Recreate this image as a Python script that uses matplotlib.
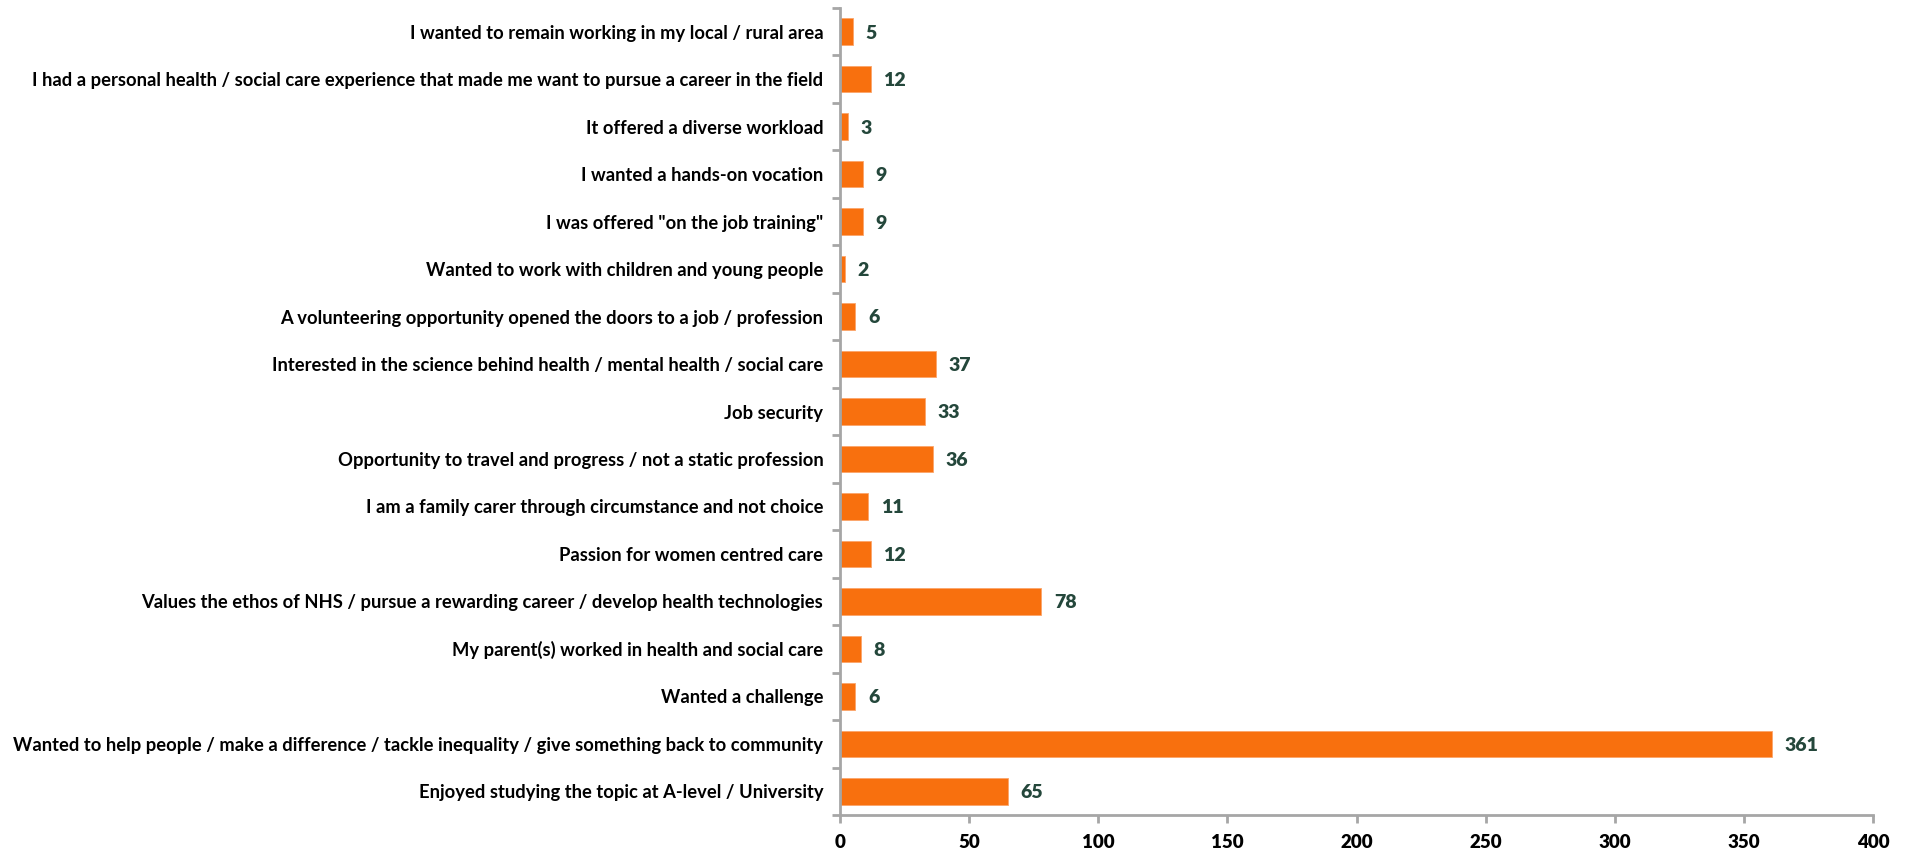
import matplotlib.pyplot as plt
import numpy as np

reasons = [
    "I wanted to remain working in my local / rural area",
    "I had a personal health / social care experience that made me want to pursue a career in the field",
    "It offered a diverse workload",
    "I wanted a hands-on vocation",
    "I was offered \"on the job training\"",
    "Wanted to work with children and young people",
    "A volunteering opportunity opened the doors to a job / profession",
    "Interested in the science behind health / mental health / social care",
    "Job security",
    "Opportunity to travel and progress / not a static profession",
    "I am a family carer through circumstance and not choice",
    "Passion for women centred care",
    "Values the ethos of NHS / pursue a rewarding career / develop health technologies",
    "My parent(s) worked in health and social care",
    "Wanted a challenge",
    "Wanted to help people / make a difference / tackle inequality / give something back to community",
    "Enjoyed studying the topic at A-level / University",
]
counts = [5, 12, 3, 9, 9, 2, 6, 37, 33, 36, 11, 12, 78, 8, 6, 361, 65]

plt.rcParams['font.family'] = ['Lato', 'DejaVu Sans']

bar_color = "#F8700E"
label_color = "#24473B"
spine_color = "#A6A6A6"

fig = plt.figure(figsize=(19.12, 8.49), dpi=100)
ax = fig.add_axes([840 / 1912, 34 / 849, 1033 / 1912, 807 / 849])

y = np.arange(len(reasons))
ax.barh(y, counts, height=0.56, color=bar_color, edgecolor="#FBA56A", linewidth=0.6)

for i in range(len(counts)):
    ax.annotate(str(counts[i]), (counts[i], y[i]), xytext=(9, -1), textcoords="offset points",
                va="center", ha="left", fontsize=14, fontweight="heavy", color=label_color)

ax.set_ylim(len(reasons) - 0.5, -0.5)
ax.set_xlim(0, 400)
ax.set_xticks(np.arange(0, 401, 50))

ax.set_yticks(y)
ax.set_yticklabels(reasons, fontsize=13.2, fontweight="bold", color="black")
ax.tick_params(axis="y", length=0, pad=12)
ax.set_yticks(np.arange(-0.5, len(reasons) + 0.5, 1), minor=True)
ax.tick_params(axis="y", which="minor", length=6, width=2, color=spine_color, direction="out")

ax.tick_params(axis="x", length=6, width=2, color=spine_color, labelsize=13.5, pad=8)
for lab in ax.get_xticklabels():
    lab.set_fontweight("heavy")

for s in ["top", "right"]:
    ax.spines[s].set_visible(False)
for s in ["left", "bottom"]:
    ax.spines[s].set_color(spine_color)
    ax.spines[s].set_linewidth(2)

fig.savefig("out.png", dpi=100)
